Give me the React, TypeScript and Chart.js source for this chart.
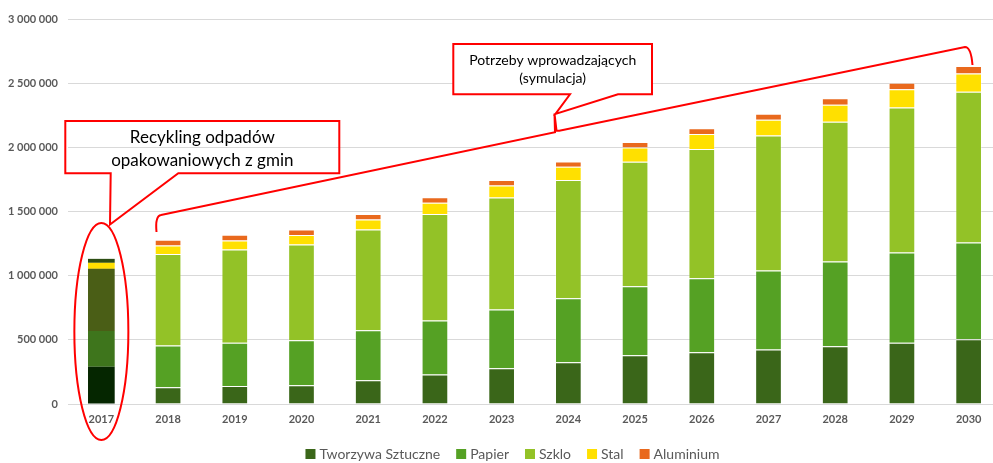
import React, { useEffect, useRef } from "react";
import { Chart, registerables } from "chart.js";

Chart.register(...registerables);

const years = ["2017", "2018", "2019", "2020", "2021", "2022", "2023", "2024", "2025", "2026", "2027", "2028", "2029", "2030"];
const tworzywaSztuczne = [291000, 130000, 140000, 146000, 185000, 229000, 278000, 325000, 380000, 403000, 424000, 450000, 478000, 505000];
const papier = [278000, 325000, 338000, 351000, 390000, 421000, 458000, 499000, 538000, 577000, 616000, 660000, 702000, 753000];
const szklo = [484000, 713000, 726000, 746000, 785000, 830000, 873000, 921000, 970000, 1007000, 1053000, 1090000, 1131000, 1176000];
const stal = [47000, 67000, 70000, 73000, 78000, 88000, 94000, 104000, 111000, 117000, 122000, 132000, 141000, 142000];
const aluminium = [31000, 44000, 44000, 44000, 42000, 44000, 42000, 41000, 42000, 44000, 47000, 50000, 52000, 58000];

const seriesNames = ["Tworzywa Sztuczne", "Papier", "Szklo", "Stal", "Aluminium"];
const seriesValues = [tworzywaSztuczne, papier, szklo, stal, aluminium];
const seriesColors = ["#3a6619", "#55a124", "#93c227", "#ffe000", "#e9691d"];
const recyklingColors = ["#052600", "#3e751c", "#4a5e16", "#ffe000", "#2c4e14"];

const yMax = 3000000;
const yStep = 500000;

const recyklingLabel = ["Recykling odpadów", "opakowaniowych z gmin"];
const potrzebyLabel = ["Potrzeby wprowadzających", "(symulacja)"];

const FONT = "Lato";

const fmt = (v: number) => String(v).replace(/\B(?=(\d{3})+(?!\d))/g, " ");

const decorPlugin = {
  id: "decor",
  afterDraw(chart: any) {
    const { ctx, scales } = chart;
    const xs = scales.x;
    const ys = scales.y;
    const sx = xs.width / 934;
    const sy = ys.height / 385;
    const X = (x: number) => xs.left + (x - 68) * sx;
    const Y = (y: number) => ys.bottom - (404 - y) * sy;

    ctx.save();
    ctx.strokeStyle = "#ff0000";
    ctx.lineWidth = 2;
    ctx.lineJoin = "miter";

    // ellipse round the 2017 bar
    const cx = xs.getPixelForValue(0);
    ctx.beginPath();
    ctx.ellipse(cx, Y(331.5), 27 * sx, 108.5 * sy, 0, 0, Math.PI * 2);
    ctx.stroke();

    // brace over 2018-2030
    ctx.beginPath();
    ctx.moveTo(X(156.5), Y(232));
    ctx.quadraticCurveTo(X(155), Y(216), X(161), Y(215));
    ctx.lineTo(X(555), Y(132.3));
    ctx.lineTo(X(554.5), Y(113.5));
    ctx.lineTo(X(556.5), Y(130.7));
    ctx.lineTo(X(559.3), Y(130.7));
    ctx.lineTo(X(965), Y(47));
    ctx.quadraticCurveTo(X(971), Y(47), X(972.5), Y(65));
    ctx.stroke();

    // callout 1 (transparent)
    ctx.beginPath();
    ctx.moveTo(X(65.3), Y(121));
    ctx.lineTo(X(339.3), Y(121));
    ctx.lineTo(X(339.3), Y(173.3));
    ctx.lineTo(X(178.3), Y(173.3));
    ctx.lineTo(X(110), Y(224.5));
    ctx.lineTo(X(110.7), Y(173.3));
    ctx.lineTo(X(65.3), Y(173.3));
    ctx.closePath();
    ctx.stroke();

    // callout 2 (white fill)
    ctx.beginPath();
    ctx.moveTo(X(453.3), Y(44));
    ctx.lineTo(X(652), Y(44));
    ctx.lineTo(X(652), Y(94.3));
    ctx.lineTo(X(618), Y(94.3));
    ctx.lineTo(X(555.5), Y(114));
    ctx.lineTo(X(570), Y(94.3));
    ctx.lineTo(X(453.3), Y(94.3));
    ctx.closePath();
    ctx.fillStyle = "#ffffff";
    ctx.fill();
    ctx.stroke();

    ctx.fillStyle = "#000000";
    ctx.textAlign = "center";
    ctx.textBaseline = "middle";
    ctx.font = `17px ${FONT}`;
    ctx.fillText(recyklingLabel[0], X(202.3), Y(137.5));
    ctx.fillText(recyklingLabel[1], X(202.3), Y(161));
    ctx.font = `14px ${FONT}`;
    ctx.fillText(potrzebyLabel[0], X(552.7), Y(60));
    ctx.fillText(potrzebyLabel[1], X(552.7), Y(78));

    // legend
    ctx.font = `14px ${FONT}`;
    ctx.textAlign = "left";
    const box = 10;
    const gapText = 4;
    const gapItem = 16;
    const widths = seriesNames.map((n) => ctx.measureText(n).width);
    const total = widths.reduce((a, w) => a + box + gapText + w, 0) + gapItem * (seriesNames.length - 1);
    let lx = X(512.5) - total / 2;
    const ly = Y(454);
    seriesNames.forEach((n, i) => {
      ctx.fillStyle = seriesColors[i];
      ctx.fillRect(lx, ly - box / 2, box, box);
      ctx.fillStyle = "#595959";
      ctx.fillText(n, lx + box + gapText, ly + 0.5);
      lx += box + gapText + widths[i] + gapItem;
    });
    ctx.restore();
  },
};

export default function App() {
  const ref = useRef<HTMLCanvasElement>(null);
  useEffect(() => {
    Chart.defaults.font.family = FONT;
    const datasets = seriesNames.map((name, i) => ({
      label: name,
      data: seriesValues[i],
      backgroundColor: seriesValues[i].map((_, j) => (j === 0 ? recyklingColors[i] : seriesColors[i])),
      borderColor: "rgba(255,255,255,0.3)",
      borderWidth: seriesValues[i].map((_, j) => (j === 0 ? 0 : { top: 1, left: 1, right: 1, bottom: 0 })),
      borderSkipped: false,
      categoryPercentage: 1,
      barPercentage: 0.4,
    }));
    const chart = new Chart(ref.current as HTMLCanvasElement, {
      type: "bar",
      data: { labels: years, datasets },
      options: {
        responsive: false,
        animation: false,
        layout: { padding: { top: 19, right: 8, left: 0, bottom: 0 } },
        plugins: { legend: { display: false }, tooltip: { enabled: false } },
        scales: {
          x: {
            stacked: true,
            grid: { display: false, drawTicks: false },
            border: { display: false },
            ticks: { color: "#595959", font: { size: 11, weight: "bold", family: FONT }, padding: 9 },
            afterFit: (s: any) => {
              s.height = 59;
            },
          },
          y: {
            stacked: true,
            min: 0,
            max: yMax,
            ticks: {
              stepSize: yStep,
              color: "#595959",
              font: { size: 11, weight: "bold", family: FONT },
              padding: 10,
              callback: (v: any) => fmt(Number(v)),
            },
            grid: { color: "#d9d9d9", drawTicks: false },
            border: { display: false },
            afterFit: (s: any) => {
              s.width = 68;
            },
          },
        },
      } as any,
      plugins: [decorPlugin],
    });
    return () => chart.destroy();
  }, []);
  return (
    <div style={{ position: "absolute", left: 0, top: 0, width: 993, height: 463, overflow: "hidden", background: "#ffffff" }}>
      <canvas ref={ref} width={1010} height={463} style={{ display: "block" }} />
    </div>
  );
}
